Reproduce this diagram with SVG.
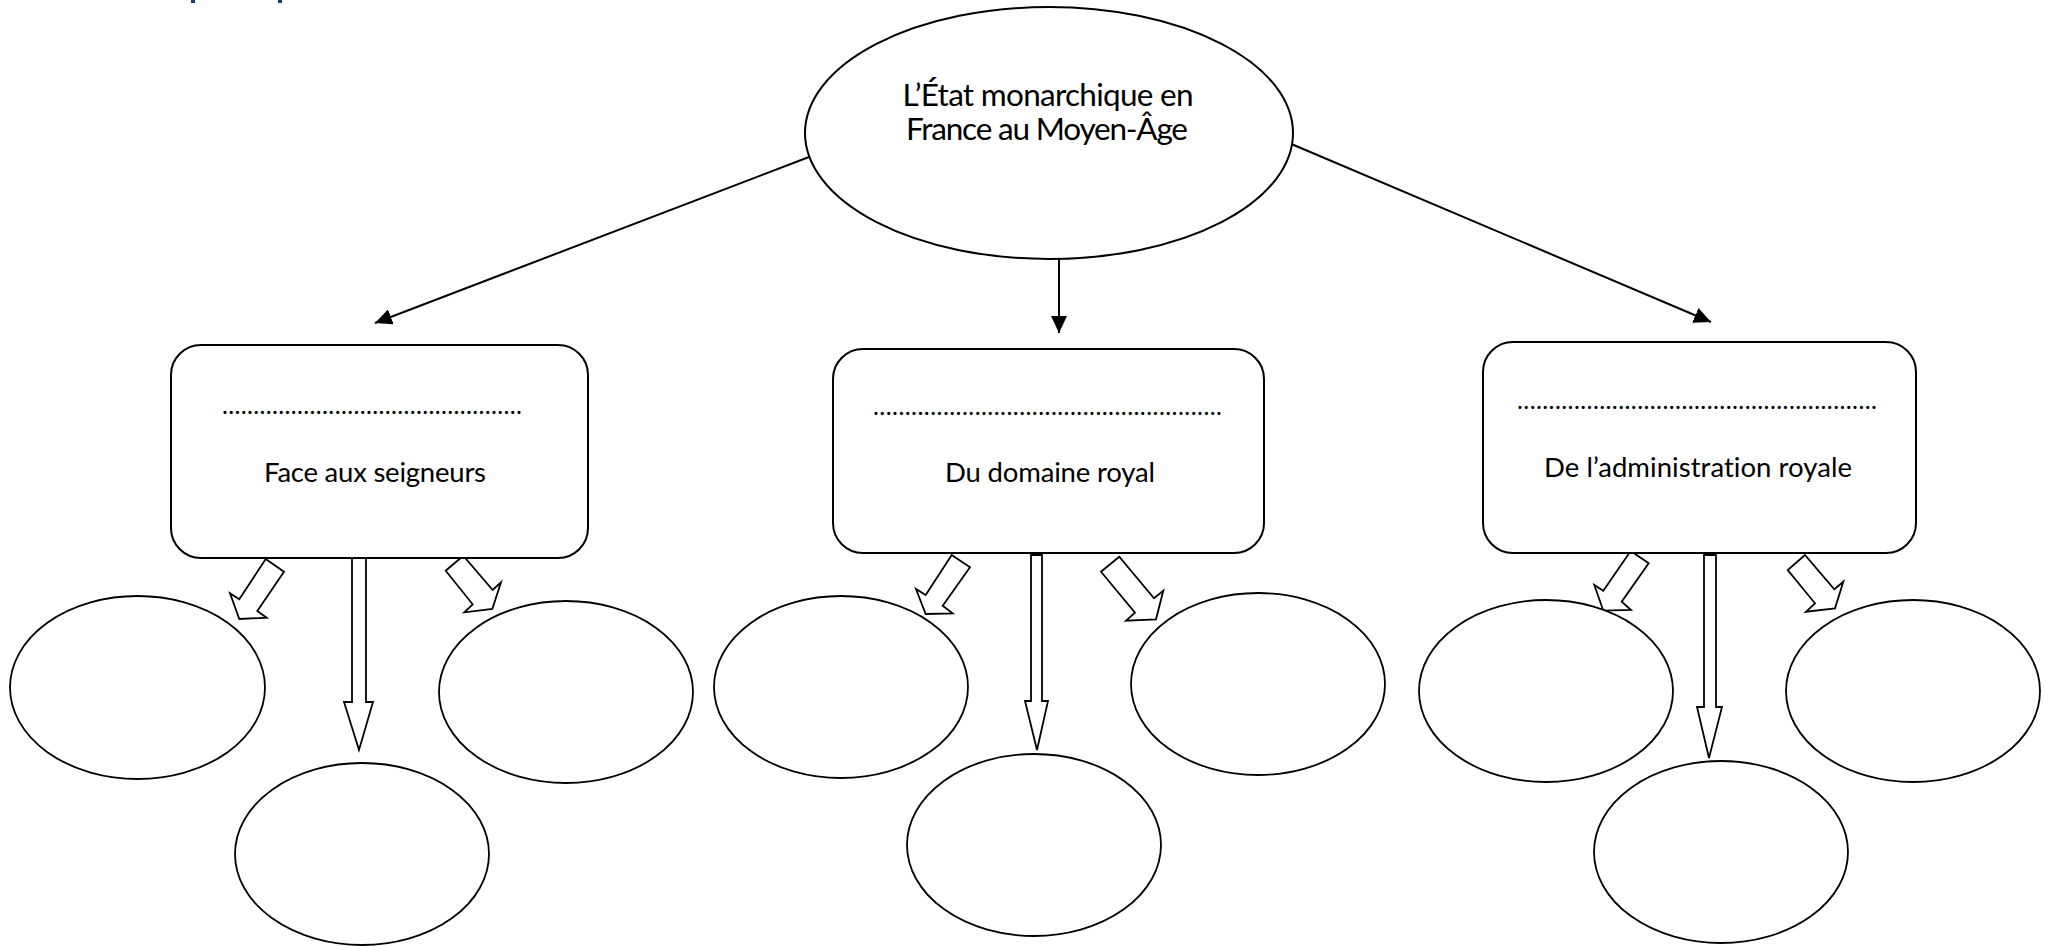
<svg xmlns="http://www.w3.org/2000/svg" width="2045" height="946" viewBox="0 0 2045 946">
<style>
.shape{fill:#fff;stroke:#000;stroke-width:2}
.thin{fill:#fff;stroke:#000;stroke-width:1.8}
.conn{fill:none;stroke:#000;stroke-width:2}
.lbl{font-family:Lato,"Open Sans",sans-serif;font-size:27.5px;fill:#000;text-anchor:middle;font-variant-ligatures:none}
.title{font-family:Lato,"Open Sans",sans-serif;font-size:31.5px;fill:#000;text-anchor:middle;font-variant-ligatures:none}
.dots{font-family:Lato,"Open Sans",sans-serif;font-size:25px;fill:#000}
</style>
<defs>
<marker id="ah" markerUnits="userSpaceOnUse" markerWidth="18" markerHeight="16" refX="17" refY="8" orient="auto">
<path d="M0,0 L17,8 L0,16 Z" fill="#000"/>
</marker>
</defs>
<rect width="2045" height="946" fill="#fff"/>
<rect x="191" y="0" width="4" height="3" fill="#1f3864"/>
<rect x="278" y="0" width="4" height="3" fill="#1f3864"/>

<g id="connectors">
<line class="conn" x1="809" y1="157" x2="375" y2="323" marker-end="url(#ah)"/>
<line class="conn" x1="1059" y1="259" x2="1059" y2="333" marker-end="url(#ah)"/>
<line class="conn" x1="1289" y1="143" x2="1711" y2="322" marker-end="url(#ah)"/>
<polygon class="thin" points="265.7,559 284,571.7 257.3,611 266.7,617.7 239.3,619 230,593.3 239.3,599.3"/>
<polygon class="thin" points="352,557 366,557 366,702 373,702 359,750 344,702 352,702"/>
<polygon class="thin" points="463.3,555.7 445.7,570.7 472.7,604.3 464.3,612.3 492.3,609 501,582.3 492.7,590"/>
<polygon class="thin" points="951.7,555 970,567.3 942.7,605.7 952.7,613.3 925.7,614 916,589 925.7,595"/>
<polygon class="thin" points="1031,555 1042,555 1042,701 1048,701 1037,750 1025,701 1031,701"/>
<polygon class="thin" points="1119.3,556.7 1101,571.7 1135,612.7 1126,620.7 1156,619.3 1163.3,590.7 1154,598.3"/>
<polygon class="thin" points="1630.7,551 1648.7,563.3 1621.7,601.7 1631,610 1603.3,610.7 1594.3,585 1603.3,590.7"/>
<polygon class="thin" points="1704,555 1716,555 1716,707 1722,707 1709,758 1697,707 1704,707"/>
<polygon class="thin" points="1805,555 1787.7,570 1815,603.3 1806,611.7 1835,608.3 1843.3,581.7 1834.3,589.3"/>
</g>

<g id="root">
<ellipse class="shape" cx="1049" cy="133" rx="244" ry="126"/>
<text class="title" x="1048" y="106" textLength="291">L’État monarchique en</text>
<text class="title" x="1047" y="140" textLength="282">France au Moyen-Âge</text>
</g>

<g id="box-seigneurs">
<rect class="shape" x="171" y="345" width="417" height="213" rx="30" ry="30"/>
<text class="dots" x="222" y="414" textLength="300">................................................</text>
<text class="lbl" x="375" y="482" textLength="222">Face aux seigneurs</text>
</g>
<g id="box-domaine">
<rect class="shape" x="833" y="349" width="431" height="204" rx="30" ry="30"/>
<text class="dots" x="873" y="415" textLength="349">.......................................................</text>
<text class="lbl" x="1050" y="482" textLength="210">Du domaine royal</text>
</g>
<g id="box-administration">
<rect class="shape" x="1483" y="342" width="433" height="211" rx="30" ry="30"/>
<text class="dots" x="1517" y="409" textLength="360">.........................................................</text>
<text class="lbl" x="1698" y="477" textLength="308">De l’administration royale</text>
</g>

<g id="e1a"><ellipse class="thin" cx="137.5" cy="687.5" rx="127.5" ry="91.5"/></g>
<g id="e1b"><ellipse class="thin" cx="362" cy="854" rx="127" ry="91"/></g>
<g id="e1c"><ellipse class="thin" cx="566" cy="692" rx="127" ry="91"/></g>
<g id="e2a"><ellipse class="thin" cx="841" cy="687" rx="127" ry="91"/></g>
<g id="e2b"><ellipse class="thin" cx="1034" cy="845" rx="127" ry="91"/></g>
<g id="e2c"><ellipse class="thin" cx="1258" cy="684" rx="127" ry="91"/></g>
<g id="e3a"><ellipse class="thin" cx="1546" cy="691" rx="127" ry="91"/></g>
<g id="e3b"><ellipse class="thin" cx="1721" cy="852" rx="127" ry="91"/></g>
<g id="e3c"><ellipse class="thin" cx="1913" cy="691" rx="127" ry="91"/></g>
</svg>
